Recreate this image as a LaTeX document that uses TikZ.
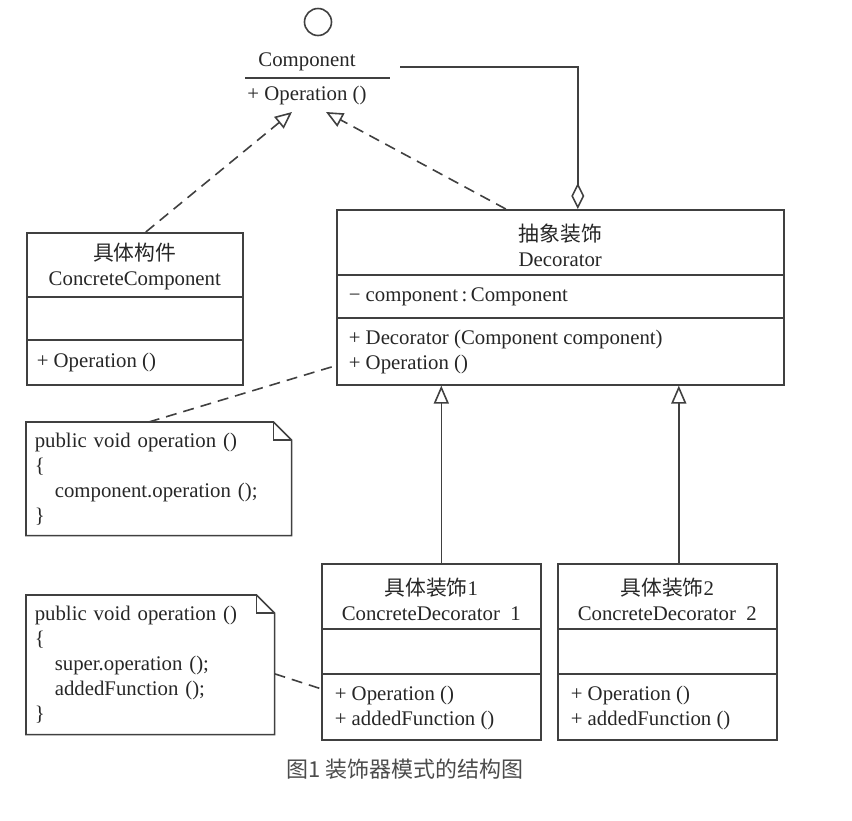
\documentclass[tikz,border=0pt]{standalone}
\usepackage{fontspec}
\setmainfont{Liberation Serif}
\newfontfamily\cjkfont{Noto Sans CJK SC}
\usetikzlibrary{arrows.meta,positioning}

\begin{document}
\begin{tikzpicture}[x=1pt, y=-1pt, line width=1.6pt, draw=black!75, text=black!85,
	font=\fontsize{20.8}{25}\selectfont,
	classbox/.style={draw, anchor=north west, inner sep=0pt},
	notebox/.style={anchor=north west, inner xsep=8pt, inner ysep=0pt, align=left},
	member/.style={anchor=west, align=left, inner sep=0pt},
	title/.style={align=center, inner sep=0pt},
	dashes/.style={dash pattern=on 11pt off 7pt},
	realize/.style={dashes, -{Triangle[open, length=17pt, width=15pt]}},
	inherit/.style={-{Triangle[open, length=18pt, width=15pt]}}]
	\useasboundingbox (0,0) rectangle (852,820);

	% interface
	\node [circle, draw, minimum size=27pt, inner sep=0pt] (lolly) at (318,22) {};
	\node [inner sep=0pt] (comp) at (307,62) {Component};
	\coordinate (compL) at (245,78);
	\coordinate (compR) at (390,78);
	\draw (compL) -- (compR);
	\node [inner sep=0pt] (compop) at (307,95) {+ Operation ()};
	\coordinate (tipL) at (292,112);
	\coordinate (tipR) at (326,112);
	\coordinate (aggend) at (400,67);

	% ConcreteComponent
	\node [classbox, minimum width=216pt, minimum height=152pt] (ccomp) at (26,232) {};
	\node [title] (ccomp-name) at ([yshift=-34pt]ccomp.north) {{\cjkfont 具体构件}\\ConcreteComponent};
	\draw ([yshift=-65pt]ccomp.north west) -- ([yshift=-65pt]ccomp.north east);
	\draw ([yshift=-108pt]ccomp.north west) -- ([yshift=-108pt]ccomp.north east);
	\node [member] (ccomp-op) at ([xshift=10pt, yshift=-130pt]ccomp.north west) {+ Operation ()};

	% Decorator
	\node [classbox, minimum width=447pt, minimum height=175pt] (deco) at (336,209) {};
	\node [title] (deco-name) at ([yshift=-36pt]deco.north) {{\cjkfont 抽象装饰}\\Decorator};
	\draw ([yshift=-66pt]deco.north west) -- ([yshift=-66pt]deco.north east);
	\draw ([yshift=-109pt]deco.north west) -- ([yshift=-109pt]deco.north east);
	\node [member] (deco-attr) at ([xshift=12pt, yshift=-88pt]deco.north west) {− component\,:\,Component};
	\node [member] (deco-op) at ([xshift=12pt, yshift=-142.5pt]deco.north west) {+ Decorator (Component component)\\+ Operation ()};

	% ConcreteDecorator 1 and 2
	\node [classbox, minimum width=219pt, minimum height=176pt] (cdec1) at (321,563) {};
	\node [title] (cdec1-name) at ([yshift=-36pt]cdec1.north) {{\cjkfont 具体装饰}1\\ConcreteDecorator\ \ 1};
	\draw ([yshift=-66pt]cdec1.north west) -- ([yshift=-66pt]cdec1.north east);
	\draw ([yshift=-111pt]cdec1.north west) -- ([yshift=-111pt]cdec1.north east);
	\node [member] (cdec1-op) at ([xshift=13pt, yshift=-144.5pt]cdec1.north west) {+ Operation ()\\+ addedFunction ()};

	\node [classbox, minimum width=219pt, minimum height=176pt] (cdec2) at (557,563) {};
	\node [title] (cdec2-name) at ([yshift=-36pt]cdec2.north) {{\cjkfont 具体装饰}2\\ConcreteDecorator\ \ 2};
	\draw ([yshift=-66pt]cdec2.north west) -- ([yshift=-66pt]cdec2.north east);
	\draw ([yshift=-111pt]cdec2.north west) -- ([yshift=-111pt]cdec2.north east);
	\node [member] (cdec2-op) at ([xshift=13pt, yshift=-144.5pt]cdec2.north west) {+ Operation ()\\+ addedFunction ()};

	% notes
	\node [notebox, minimum width=264pt, minimum height=112pt, text width=248pt] (note1) at (26,422)
		{public void operation ()\\\{\\\hspace*{20pt}component.operation ();\\\}};
	\node [notebox, minimum width=247pt, minimum height=138pt, text width=231pt] (note2) at (26,595)
		{public void operation ()\\\{\\\hspace*{20pt}super.operation ();\\\hspace*{20pt}addedFunction ();\\\}};
	\foreach \n in {note1,note2} {
		\draw (\n.north west) -- ([xshift=-18pt]\n.north east) -- ([yshift=-18pt]\n.north east)
			-- (\n.south east) -- (\n.south west) -- cycle;
		\draw ([xshift=-18pt]\n.north east) |- ([yshift=-18pt]\n.north east);
	}

	% connectors
	\draw [realize] ([xshift=11pt]ccomp.north) -- (tipL);
	\draw [realize] ([xshift=-54.5pt]deco.north) -- (tipR);
	\draw [{Diamond[open, length=26pt, width=13pt]}-] ([xshift=17.5pt]deco.north) |- (aggend);
	\draw [inherit] ([xshift=10pt]cdec1.north) -- ([xshift=10pt]cdec1.north |- deco.south);
	\draw [inherit] ([xshift=11.5pt]cdec2.north) -- ([xshift=11.5pt]cdec2.north |- deco.south);
	\draw [dashes] ([xshift=-10pt]note1.north) -- ([yshift=20pt]deco.south west);
	\draw [dashes] ([yshift=-9pt]note2.east) -- ([yshift=-37pt]cdec1.west);
	%\draw (lolly) -- (comp);

	\node [text=black!70, font=\cjkfont\fontsize{22}{26}\selectfont] (caption) at (405,769) {图1 装饰器模式的结构图};
\end{tikzpicture}
\end{document}
